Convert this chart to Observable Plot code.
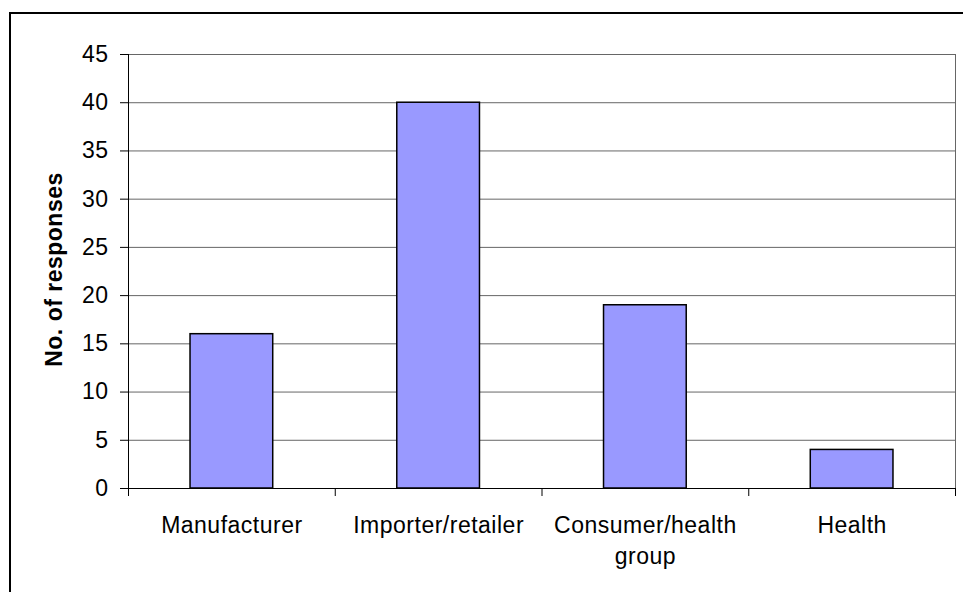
<!DOCTYPE html>
<html>
<head>
<meta charset="utf-8">
<script src="https://cdn.jsdelivr.net/npm/d3@7"></script>
<script src="https://cdn.jsdelivr.net/npm/@observablehq/plot@0.6"></script>
<style>
  html, body { margin: 0; padding: 0; background: #fff; overflow: hidden; }
  #wrap { position: relative; width: 963px; height: 592px; }
  #chart { position: absolute; left: 0; top: 0; }
  #chart svg text { letter-spacing: 0.5px; }
  #frame {
    position: absolute; left: 9px; top: 12px;
    width: 1000px; height: 700px;
    border: 2px solid #000; box-sizing: border-box;
    pointer-events: none;
  }
</style>
</head>
<body>
<div id="wrap">
  <div id="chart"></div>
  <div id="frame"></div>
</div>
<script>
// Respondent groups and the number of responses from each
const categories = ["Manufacturer", "Importer/retailer", "Consumer/health\ngroup", "Health"];
const responses = [16, 40, 19, 4];
const yTicks = [0, 5, 10, 15, 20, 25, 30, 35, 40, 45];
const yTitle = "No. of responses";

const data = categories.map((name, i) => ({name, i, value: responses[i]}));
const n = categories.length;

const font = "'Liberation Sans', Arial, sans-serif";

const plot = Plot.plot({
  width: 963,
  height: 592,
  marginLeft: 128,
  marginRight: 8,
  marginTop: 54,
  marginBottom: 104,
  style: {fontFamily: font, fontSize: "23px", color: "#000", background: "transparent"},
  x: {type: "linear", domain: [0, n], axis: null},
  y: {domain: [0, 45], axis: null},
  marks: [
    // horizontal gridlines
    Plot.ruleY(yTicks.filter(t => t > 0), {stroke: "#666", strokeWidth: 1}),
    // right edge of the plot area
    Plot.ruleX([n], {y1: 0, y2: 45, stroke: "#666", strokeWidth: 1}),
    // bars
    Plot.rectY(data, {
      x1: d => d.i + 0.3,
      x2: d => d.i + 0.7,
      y1: 0,
      y2: "value",
      fill: "#9999ff",
      stroke: "#000",
      strokeWidth: 1.5
    }),
    // axis lines
    Plot.ruleY([0], {stroke: "#000", strokeWidth: 1}),
    Plot.ruleX([0], {y1: 0, y2: 45, stroke: "#000", strokeWidth: 1}),
    // y axis ticks and labels
    Plot.axisY({
      ticks: yTicks,
      tickSize: 8,
      tickPadding: 12,
      tickFormat: d => String(d),
      stroke: "#000",
      label: null,
      fontSize: 23
    }),
    // x axis ticks at the category boundaries
    Plot.axisX({
      ticks: d3.range(n + 1),
      tickSize: 8,
      tickFormat: () => "",
      stroke: "#000",
      label: null
    }),
    // category labels
    Plot.text(data, {
      x: d => d.i + 0.5,
      y: 0,
      text: "name",
      lineAnchor: "top",
      lineHeight: 1.36,
      dy: 22,
      fontSize: 23,
      fill: "#000"
    }),
    // y axis title
    Plot.text([yTitle], {
      frameAnchor: "left",
      textAnchor: "middle",
      rotate: -90,
      dx: -74,
      dy: -2,
      fontSize: 23,
      fontWeight: "bold",
      fill: "#000"
    })
  ]
});

document.getElementById("chart").appendChild(plot);
</script>
</body>
</html>
